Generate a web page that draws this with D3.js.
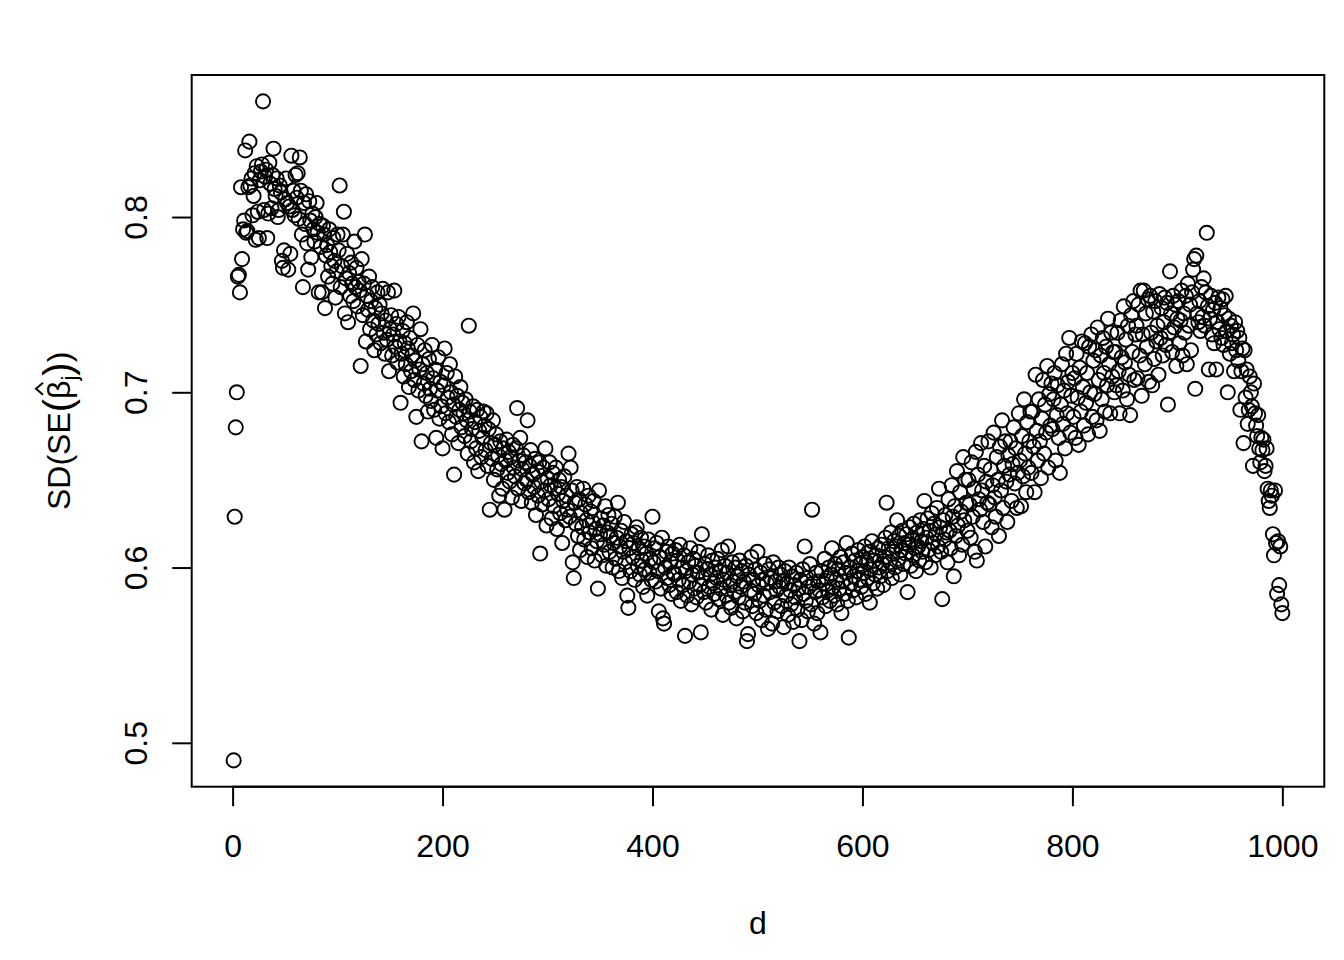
<!DOCTYPE html>
<html>
<head>
<meta charset="utf-8">
<script src="https://cdn.jsdelivr.net/npm/d3@7"></script>
<style>
html,body{margin:0;padding:0;background:#fff;}
svg{display:block;}
text{font-family:"Liberation Sans",Arial,Helvetica,sans-serif;fill:#000;}
</style>
</head>
<body>
<svg id="chart" width="1344" height="960"></svg>
<script>
// SD of SE(beta_j) for d = 1..1000 in blocks of 200
const sdA = [
.490,.629,.680,.700,.766,.767,.757,.817,.776,.793,.798,.838,.791,.792,.817,.843,.818,.822,.801,.812,
.825,.787,.829,.803,.788,.821,.826,.830,.866,.804,.823,.827,.788,.802,.831,.819,.805,.824,.839,.816,
.812,.822,.800,.804,.818,.814,.775,.771,.781,.810,.822,.808,.770,.806,.779,.835,.804,.815,.801,.824,
.811,.825,.799,.834,.815,.790,.760,.808,.796,.813,.785,.770,.809,.798,.777,.802,.793,.786,.800,.808,
.791,.757,.796,.783,.757,.795,.790,.748,.778,.784,.766,.793,.780,.772,.762,.788,.775,.754,.769,.790,
.781,.818,.760,.772,.790,.803,.745,.765,.779,.740,.768,.755,.774,.762,.752,.786,.760,.771,.749,.763,
.758,.715,.776,.744,.762,.790,.729,.755,.747,.766,.736,.752,.760,.741,.724,.748,.733,.757,.739,.750,
.728,.745,.759,.734,.722,.741,.730,.757,.712,.736,.744,.721,.733,.758,.726,.739,.717,.743,.729,.694,
.722,.735,.709,.728,.716,.740,.725,.703,.731,.712,.721,.745,.707,.718,.686,.727,.701,.713,.736,.672,
.716,.705,.724,.698,.711,.689,.719,.702,.695,.727,.708,.690,.713,.674,.701,.720,.685,.706,.692,.668
];
const sdB = [
.704,.725,.688,.711,.697,.683,.716,.700,.676,.693,.653,.709,.686,.698,.671,.690,.703,.680,.694,.688,
.675,.696,.684,.665,.738,.689,.672,.679,.692,.660,.683,.668,.690,.655,.678,.686,.663,.674,.689,.681,
.667,.688,.658,.679,.633,.671,.662,.684,.650,.670,.676,.656,.664,.641,.672,.659,.645,.668,.633,.661,
.673,.654,.666,.649,.663,.640,.670,.657,.652,.668,.691,.645,.661,.674,.638,.656,.664,.648,.660,.650,
.684,.643,.658,.667,.637,.653,.646,.662,.630,.655,.641,.660,.608,.649,.636,.657,.644,.668,.624,.651,
.639,.660,.647,.628,.654,.635,.645,.657,.622,.642,.650,.631,.646,.614,.638,.652,.627,.641,.633,.665,
.629,.657,.644,.603,.594,.637,.625,.646,.618,.639,.610,.631,.623,.645,.616,.636,.627,.606,.641,.620,
.632,.611,.626,.638,.604,.622,.615,.588,.644,.619,.628,.607,.624,.613,.635,.601,.620,.630,.609,.618,
.625,.600,.614,.629,.605,.617,.637,.598,.612,.621,.594,.609,.626,.603,.615,.584,.577,.611,.598,.619,
.606,.614,.593,.620,.623,.601,.611,.596,.617,.604,.589,.612,.599,.608,.584,.616,.597,.605,.593,.629
];
const sdC = [
.603,.611,.592,.614,.598,.575,.606,.588,.617,.571,.568,.600,.609,.594,.612,.590,.603,.585,.608,.597,
.596,.610,.586,.604,.593,.613,.581,.600,.590,.607,.561,.598,.584,.603,.592,.611,.579,.596,.605,.588,
.601,.583,.597,.609,.590,.563,.619,.594,.586,.602,.580,.599,.607,.589,.596,.576,.604,.591,.585,.600,
.594,.605,.582,.598,.588,.610,.573,.593,.601,.584,.597,.612,.580,.590,.577,.603,.592,.586,.600,.571,
.595,.583,.604,.589,.598,.575,.592,.580,.601,.558,.562,.596,.587,.606,.578,.593,.585,.599,.574,.609,
.590,.581,.597,.570,.593,.584,.602,.576,.591,.565,.599,.586,.594,.568,.603,.580,.592,.587,.575,.600,
.589,.596,.578,.592,.566,.598,.584,.591,.573,.600,.587,.579,.595,.569,.590,.583,.597,.576,.588,.558,
.593,.570,.599,.585,.612,.581,.594,.575,.589,.602,.579,.633,.591,.568,.586,.597,.574,.592,.587,.563,
.598,.583,.591,.605,.578,.594,.587,.600,.581,.596,.611,.589,.584,.602,.593,.579,.599,.588,.606,.574,
.592,.603,.585,.597,.614,.581,.560,.600,.591,.608,.587,.595,.604,.583,.598,.610,.593,.602,.589,.606
];
const sdD = [
.597,.612,.585,.603,.594,.609,.580,.599,.615,.591,.604,.596,.607,.588,.611,.600,.595,.613,.602,.590,
.606,.617,.637,.598,.611,.603,.620,.594,.609,.615,.600,.612,.627,.605,.618,.596,.610,.621,.602,.614,
.608,.619,.586,.613,.623,.601,.616,.607,.625,.611,.598,.620,.612,.604,.627,.615,.609,.622,.638,.603,
.617,.628,.610,.621,.600,.631,.614,.625,.607,.619,.634,.612,.645,.623,.609,.582,.627,.616,.630,.620,
.603,.639,.621,.611,.647,.629,.595,.635,.618,.655,.624,.607,.643,.632,.613,.663,.627,.650,.637,.621,
.650,.636,.617,.660,.629,.645,.609,.666,.604,.653,.639,.633,.671,.644,.626,.658,.612,.649,.637,.672,
.636,.656,.623,.647,.677,.640,.629,.663,.650,.618,.669,.644,.684,.634,.658,.672,.649,.626,.664,.653,
.672,.638,.659,.680,.648,.668,.634,.654,.688,.661,.635,.675,.652,.696,.665,.643,.683,.657,.672,.689,
.654,.689,.669,.643,.710,.678,.661,.696,.672,.651,.685,.707,.665,.693,.677,.715,.657,.699,.681,.705,
.679,.696,.711,.661,.687,.704,.674,.654,.693,.716,.682,.701,.668,.722,.688,.706,.731,.677,.698,.711
];
const sdE = [
.686,.708,.674,.722,.697,.670,.714,.689,.729,.703,.681,.728,.694,.711,.676,.726,.700,.733,.686,.718,
.699,.724,.684,.737,.707,.678,.721,.696,.731,.711,.689,.726,.704,.742,.716,.688,.734,.709,.723,.700,
.723,.704,.734,.712,.688,.741,.720,.701,.749,.717,.730,.696,.738,.710,.687,.744,.723,.752,.707,.733,
.738,.708,.750,.721,.758,.698,.733,.758,.716,.745,.726,.753,.706,.755,.734,.704,.746,.719,.752,.729,
.738,.710,.756,.731,.748,.721,.740,.754,.727,.751,.693,.734,.769,.745,.723,.755,.737,.750,.715,.742,
.752,.728,.741,.758,.721,.745,.734,.755,.716,.762,.738,.750,.724,.757,.770,.776,.702,.778,.745,.740,
.752,.735,.760,.743,.765,.738,.757,.791,.749,.713,.742,.755,.733,.747,.728,.751,.713,.740,.754,.736,
.748,.731,.753,.727,.744,.755,.735,.700,.742,.722,.738,.728,.733,.712,.740,.724,.735,.718,.731,.690,
.712,.725,.671,.724,.697,.713,.682,.690,.709,.700,.692,.658,.705,.688,.681,.675,.687,.668,.660,.674,
.667,.673,.655,.658,.668,.645,.638,.634,.644,.641,.619,.607,.644,.614,.585,.615,.590,.612,.579,.574
];
const sdValues = [].concat(sdA, sdB, sdC, sdD, sdE);
const xTicks = [0, 200, 400, 600, 800, 1000];
const yTicks = [0.5, 0.6, 0.7, 0.8];
const xTitle = "d";

const points = sdValues.map((v, i) => ({d: i + 1, v: v}));

const box = {left: 191.7, right: 1324.3, top: 75, bottom: 786.7};
const FS = 32;

// R style 4% axis extension
const xe = d3.extent(points, p => p.d);
const ye = d3.extent(points, p => p.v);
const xPad = (xe[1] - xe[0]) * 0.04, yPad = (ye[1] - ye[0]) * 0.04;
const x = d3.scaleLinear().domain([xe[0] - xPad, xe[1] + xPad]).range([box.left, box.right]);
const y = d3.scaleLinear().domain([ye[0] - yPad, ye[1] + yPad]).range([box.bottom, box.top]);

const svg = d3.select("#chart");

// points
svg.append("g")
  .selectAll("circle")
  .data(points)
  .enter().append("circle")
  .attr("cx", p => x(p.d))
  .attr("cy", p => y(p.v))
  .attr("r", 7.1)
  .attr("fill", "none")
  .attr("stroke", "#000")
  .attr("stroke-width", 1.9);

// box
svg.append("rect")
  .attr("x", box.left).attr("y", box.top)
  .attr("width", box.right - box.left).attr("height", box.bottom - box.top)
  .attr("fill", "none").attr("stroke", "#000").attr("stroke-width", 2);

// x axis
const gx = svg.append("g")
  .attr("transform", `translate(0,${box.bottom})`)
  .call(d3.axisBottom(x).tickValues(xTicks).tickFormat(d3.format("d")).tickSize(19.5).tickPadding(28));
gx.select(".domain").remove();
gx.selectAll(".tick line").attr("stroke", "#000").attr("stroke-width", 2);
gx.selectAll(".tick text").attr("font-size", FS).attr("font-family", "Liberation Sans, Arial, sans-serif").attr("fill", "#000");
gx.append("line").attr("x1", x(xTicks[0])).attr("x2", x(xTicks[xTicks.length-1]))
  .attr("y1", 0).attr("y2", 0).attr("stroke", "#000").attr("stroke-width", 2);

// y axis
const gy = svg.append("g")
  .attr("transform", `translate(${box.left},0)`)
  .call(d3.axisLeft(y).tickValues(yTicks).tickFormat(d3.format(".1f")).tickSize(19.5));
gy.select(".domain").remove();
gy.selectAll(".tick line").attr("stroke", "#000").attr("stroke-width", 2);
gy.selectAll(".tick text")
  .attr("x", null).attr("dy", null)
  .attr("text-anchor", "middle")
  .attr("transform", "translate(-45,0) rotate(-90)")
  .attr("font-size", FS).attr("font-family", "Liberation Sans, Arial, sans-serif").attr("fill", "#000");

// x title
svg.append("text")
  .attr("x", (box.left + box.right) / 2)
  .attr("y", 934)
  .attr("text-anchor", "middle")
  .attr("font-size", FS)
  .text(xTitle);

// y title: SD(SE(beta-hat_j))
const ytg = svg.append("g")
  .attr("transform", `translate(70,${(box.top + box.bottom) / 2}) rotate(-90)`);
const yt = ytg.append("text")
  .attr("x", 0).attr("y", 0)
  .attr("text-anchor", "middle")
  .attr("font-size", FS);
yt.append("tspan").text("SD(SE");
yt.append("tspan").attr("font-size", 40).attr("dy", 2).text("(");
yt.append("tspan").attr("dy", -2).text("\u03B2");
yt.append("tspan").attr("font-size", 22).attr("dy", 7).text("j");
yt.append("tspan").attr("font-size", 40).attr("dy", -5).text(")");
yt.append("tspan").attr("dy", -2).text(")");
// hat over beta (char index 6)
try {
  const n = yt.node();
  const s = n.getStartPositionOfChar(6);
  const e = n.getEndPositionOfChar(6);
  const cx = (s.x + e.x) / 2 + 1;
  ytg.append("path")
    .attr("d", `M${cx - 6},${-27} L${cx},${-34} L${cx + 6},${-27}`)
    .attr("fill", "none").attr("stroke", "#000").attr("stroke-width", 2);
} catch (err) {}
</script>
</body>
</html>
